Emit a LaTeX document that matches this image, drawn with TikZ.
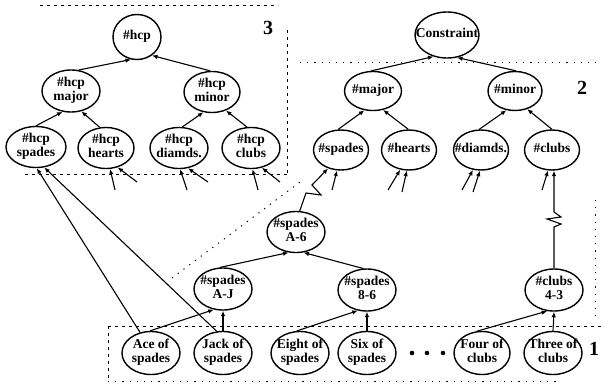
\documentclass[tikz,border=0pt]{standalone}
\usepackage{fontspec}
\setmainfont{Liberation Serif}
\usetikzlibrary{arrows.meta,shapes.geometric}
% centred lines of a label that take no width of their own
\newcommand\lines[1]{\makebox[0pt]{\begin{tabular}{@{}c@{}}#1\end{tabular}}}

\begin{document}
\begin{tikzpicture}[x=1pt,y=-1pt,
  box/.style={draw,ellipse,line width=1.4pt,inner sep=0pt,
    font=\bfseries\fontsize{13.5}{13.5}\selectfont},
  sz/.style 2 args={minimum width=#1,minimum height=#2},
  arr/.style={line width=1.1pt,-{Latex[length=5.5pt,width=4.5pt]}},
  zig/.style={arr,line join=miter},
  lvl/.style={font=\bfseries\fontsize{20}{20}\selectfont,inner sep=0pt},
  bound/.style={line width=0.8pt,dash pattern=on 3pt off 4pt},
  dotbound/.style={line width=1pt,dash pattern=on 1.2pt off 6pt}]
\useasboundingbox (0,0) rectangle (601,383);

% level 3: point count tree
\node[box,sz={48}{45}] (hcp) at (137,37) {\lines{\#hcp}};
\node[box,sz={58}{42}] (hcpmaj) at (71,91) {\lines{\#hcp\\major}};
\node[box,sz={56}{41}] (hcpmin) at (212,92) {\lines{\#hcp\\minor}};
\node[box,sz={60}{41}] (hcpsp) at (36,147) {\lines{\#hcp\\spades}};
\node[box,sz={56}{41}] (hcphrt) at (106,148) {\lines{\#hcp\\hearts}};
\node[box,sz={58}{41}] (hcpdia) at (179,148) {\lines{\#hcp\\diamds.}};
\node[box,sz={58}{41}] (hcpclb) at (251,148) {\lines{\#hcp\\clubs}};

% level 2: suit length tree
\node[box,sz={64}{46}] (con) at (447,35) {\lines{Constraint}};
\node[box,sz={57}{39}] (maj) at (373,91) {\lines{\#major}};
\node[box,sz={54}{39}] (min) at (515,91) {\lines{\#minor}};
\node[box,sz={55}{40}] (sp) at (341,150) {\lines{\#spades}};
\node[box,sz={55}{40}] (hr) at (409,150) {\lines{\#hearts}};
\node[box,sz={55}{40}] (di) at (481,150) {\lines{\#diamds.}};
\node[box,sz={55}{40}] (cl) at (552,150) {\lines{\#clubs}};
\node[box,sz={58}{41}] (a6) at (296,232) {\lines{\#spades\\A-6}};

% level 1: card groups and cards
\node[box,sz={58}{42}] (aj) at (223,289) {\lines{\#spades\\A-J}};
\node[box,sz={58}{42}] (e86) at (367,290) {\lines{\#spades\\8-6}};
\node[box,sz={58}{42}] (c43) at (554,290) {\lines{\#clubs\\4-3}};
\node[box,sz={58}{43}] (ace) at (151,353) {\lines{Ace of\\spades}};
\node[box,sz={58}{43}] (jack) at (223,353) {\lines{Jack of\\spades}};
\node[box,sz={58}{43}] (eight) at (300,353) {\lines{Eight of\\spades}};
\node[box,sz={58}{43}] (six) at (367,353) {\lines{Six of\\spades}};
\node[box,sz={56}{43}] (four) at (482,353) {\lines{Four of\\clubs}};
\node[box,sz={58}{43}] (three) at (553,353) {\lines{Three of\\clubs}};
\foreach \x in {412,427,443} \fill (\x,353) circle[radius=2.3pt];

% level labels
\node[lvl] (n3) at (268,28) {3};
\node[lvl] (n2) at (582,88) {2};
\node[lvl] (n1) at (594,349) {1};

% region boundaries
\draw[bound] (40,5) -- (278,5);
\draw[bound] (287,30) -- (287,177);
\draw[bound] (25,174) -- (287,174);
\draw[dotbound] (300,62) -- (601,62);
\draw[dotbound] (172,278) -- (300,182);
\draw[dotbound] (595,200) -- (595,322);
\draw[bound] (108,326) -- (601,326);
\draw[bound] (108,326) -- (108,381);
\draw[dotbound] (108,381) -- (560,381);

% level 3 edges
\draw[arr] (hcpmaj.70) -- (hcp.255);
\draw[arr] (hcpmin.95) -- (hcp.309);
\draw[arr] (hcpsp.90) -- (hcpmaj.248);
\draw[arr] (hcphrt.107) -- (hcpmaj.297);
\draw[arr] (hcpdia.81) -- (hcpmin.247);
\draw[arr] (hcpclb.101) -- (hcpmin.307);
\draw[arr] (ace.118) -- (hcpsp.272);
\draw[arr] (jack.106) -- (hcpsp.292);
\coordinate (h1) at (115,190); \coordinate (h2) at (137,182);
\coordinate (d1) at (187,190); \coordinate (d2) at (208,182);
\coordinate (k1) at (258,190); \coordinate (k2) at (280,182);
\draw[arr] (h1) -- (hcphrt.281);
\draw[arr] (h2) -- (hcphrt.301);
\draw[arr] (d1) -- (hcpdia.273);
\draw[arr] (d2) -- (hcpdia.294);
\draw[arr] (k1) -- (hcpclb.274);
\draw[arr] (k2) -- (hcpclb.299);

% level 2 edges
\draw[arr] (maj.95) -- (con.238);
\draw[arr] (min.87) -- (con.294);
\draw[arr] (sp.98) -- (maj.246);
\draw[arr] (hr.92) -- (maj.298);
\draw[arr] (di.95) -- (min.246);
\draw[arr] (cl.90) -- (min.304);
\coordinate (s1) at (332,190);
\coordinate (r1) at (388,190); \coordinate (r2) at (402,192);
\coordinate (m1) at (462,190); \coordinate (m2) at (473,192);
\coordinate (q1) at (542,190);
\draw[arr] (s1) -- (sp.259);
\draw[arr] (r1) -- (hr.246);
\draw[arr] (r2) -- (hr.264);
\draw[arr] (m1) -- (di.248);
\draw[arr] (m2) -- (di.267);
\draw[arr] (q1) -- (cl.259);

% broken links across levels
\coordinate (za) at (306,193); \coordinate (zb) at (321,195); \coordinate (zc) at (312,185);
\draw[zig] (a6.80) -- (za) -- (zb) -- (zc) -- (sp.235);
\coordinate (ya) at (554,227); \coordinate (yb) at (561,224);
\coordinate (yc) at (547,219); \coordinate (yd) at (561,217); \coordinate (ye) at (554,212);
\draw[zig] (c43.north) -- (ya) -- (yb) -- (yc) -- (yd) -- (ye) -- (ye |- cl.south);

% level 1 edges
\draw[arr] (ace.92) -- (aj.246);
\draw[arr] (jack.north) -- (aj.south);
\draw[arr] (aj.98) -- (a6.250);
\draw[arr] (e86.100) -- (a6.290);
\draw[arr] (eight.98) -- (e86.246);
\draw[arr] (six.north) -- (e86.south);
\draw[arr] (four.103) -- (c43.252);
\draw[arr] (three.north) -- (c43.south);
\end{tikzpicture}
\end{document}
